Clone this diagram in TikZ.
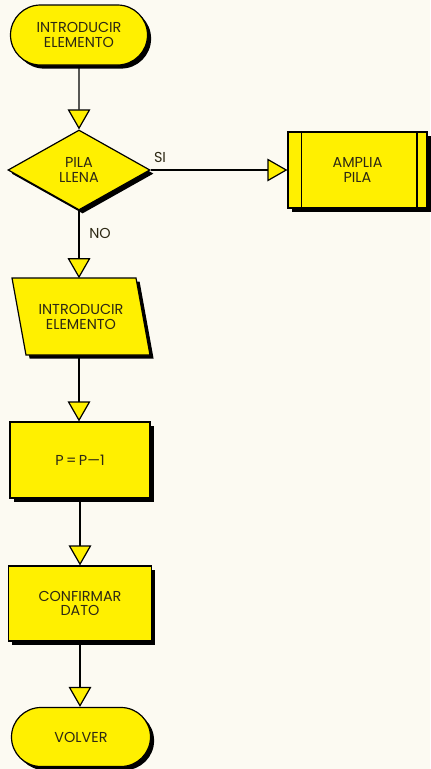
\documentclass[tikz,border=0pt]{standalone}
\usepackage{fontspec}
\setmainfont{Poppins}
\usetikzlibrary{shapes.geometric,shapes.misc,arrows.meta,shadows}
\definecolor{paper}{RGB}{252,250,242}
\definecolor{fyel}{RGB}{255,240,0}
\definecolor{ink}{RGB}{45,40,20}
\begin{document}
\begin{tikzpicture}[x=0.75pt,y=-0.75pt,
  shp/.style={draw=black, line width=0.9pt, fill=fyel,
    drop shadow={shadow xshift=2.7pt, shadow yshift=-2.7pt, fill=black, opacity=1},
    inner sep=0pt, text=ink, align=center, font=\fontsize{10.8}{11}\selectfont},
  term/.style={shp, rounded rectangle},
  proc/.style={shp, rectangle},
  dec/.style={shp, diamond},
  conn/.style={draw=black, line width=0.9pt, -{Triangle[length=15pt,width=17pt,fill=fyel,line width=0.9pt]}},
  lbl/.style={text=ink, inner sep=0pt, font=\fontsize{10.8}{11}\selectfont}
]
\fill[paper] (0,0) rectangle (430,769);
\useasboundingbox (0,0) rectangle (430,769);

\node[term, minimum width=102.75pt, minimum height=45pt] (t1) at (79,35) {INTRODUCIR\\ELEMENTO};
\node[dec, minimum width=106.5pt, minimum height=60pt] (d) at (79,170) {PILA\\LLENA};
\node[proc, minimum width=104.25pt, minimum height=57pt] (amp) at (357.5,170) {AMPLIA\\PILA};
\draw[line width=0.9pt] ([xshift=10.5pt]amp.north west) -- ([xshift=10.5pt]amp.south west)
  ([xshift=-8pt]amp.north east) -- ([xshift=-8pt]amp.south east);

\path[shp] (12,278) -- (136,278) -- (150,355) -- (26,355) -- cycle;
\node[lbl, align=center, minimum width=93pt, minimum height=57.75pt] (pg) at (81,317) {INTRODUCIR\\ELEMENTO};

\node[proc, minimum width=105pt, minimum height=57pt] (p) at (80,460) {P\,=\,P—1};
\node[proc, minimum width=107.25pt, minimum height=56.25pt] (c) at (80,603.5) {CONFIRMAR\\DATO};
\node[term, minimum width=104.25pt, minimum height=44.25pt] (v) at (81,737) {VOLVER};

\node[lbl] (si) at (160,157) {SI};
\node[lbl] (no) at (100,233) {NO};

\draw[conn] (t1) -- (d);
\draw[conn] (d) -- (amp);
\draw[conn] (d.south) -- (d.south |- pg.north);
\draw[conn] (pg.south -| d.south) -- (d.south |- p.north);
\draw[conn] (p) -- (p |- c.north);
\draw[conn] (c.south -| p.south) -- (p.south |- v.north);
\end{tikzpicture}
\end{document}
